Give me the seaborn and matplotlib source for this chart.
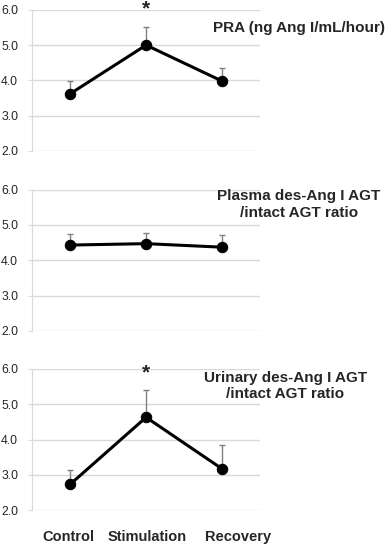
import numpy as np
import matplotlib
matplotlib.use("Agg")
import matplotlib.pyplot as plt
import matplotlib.transforms as mtransforms
import seaborn as sns

# plain white background, Arial-like font
sns.set_style("white")
plt.rcParams['font.family'] = ['Liberation Sans', 'DejaVu Sans']

# --- data (mean and upper SE) ---
phases = ["Control", "Stimulation", "Recovery"]

pra_mean = [3.62, 5.00, 3.98]
pra_se = [0.35, 0.50, 0.37]

plasma_mean = [4.43, 4.47, 4.37]
plasma_se = [0.30, 0.30, 0.34]

urine_mean = [2.73, 4.63, 3.17]
urine_se = [0.42, 0.77, 0.68]

panel_titles = ["PRA (ng Ang I/mL/hour)",
                "Plasma des-Ang I AGT\n/intact AGT ratio",
                "Urinary des-Ang I AGT\n/intact AGT ratio"]
star_marks = [["", "*", ""], ["", "", ""], ["", "*", ""]]
y_ticks = [2.0, 3.0, 4.0, 5.0, 6.0]

means = [pra_mean, plasma_mean, urine_mean]
errors = [pra_se, plasma_se, urine_se]

fig = plt.figure(figsize=(3.87, 5.45), dpi=100)
# axes boxes in figure fractions
boxes = [[0.083, 0.723, 0.589, 0.259],
         [0.083, 0.393, 0.589, 0.259],
         [0.083, 0.064, 0.589, 0.259]]
# where each title sits (axes fraction) and how it is aligned
title_pos = [(1.548, 0.868, 'right'), (1.171, 0.895, 'center'), (1.110, 0.88, 'center')]
star_y = [6.025, None, 5.885]

grid_col = '#d9d9d9'

for i in range(3):
    ax = fig.add_axes(boxes[i])
    ax.set_ylim(2, 6)

    # only the upper half of the error bar is shown
    ax.errorbar(phases, means[i], yerr=[np.zeros(3), errors[i]], fmt='none',
                ecolor='#808080', elinewidth=1, capsize=2.5, capthick=1, zorder=2)
    sns.lineplot(x=phases, y=means[i], ax=ax, color='black', linewidth=2.2,
                 marker='o', markersize=7.5, markeredgecolor='black', sort=False, zorder=3)
    ax.set_xlim(-0.5, 2.5)

    ax.set_yticks(y_ticks)
    ax.set_yticklabels([f"{v:.1f}" for v in y_ticks], fontsize=8.8)
    ax.yaxis.grid(True, color=grid_col, linewidth=1)
    ax.set_axisbelow(True)
    for side in ['top', 'right', 'bottom']:
        ax.spines[side].set_visible(False)
    ax.spines['left'].set_color(grid_col)
    ax.tick_params(axis='y', length=3, color=grid_col, pad=7, left=True)
    ax.set_xlabel('')
    ax.set_ylabel('')

    tx, ty, ha = title_pos[i]
    ax.text(tx, ty, panel_titles[i], transform=ax.transAxes, ha=ha, va='center',
            multialignment='center', fontsize=11, fontweight='bold')

    for j, mark in enumerate(star_marks[i]):
        if mark:
            ax.text(j, star_y[i], mark, ha='center', va='center', fontsize=15,
                    fontweight='bold', clip_on=False)

    if i < 2:
        ax.tick_params(axis='x', bottom=False, labelbottom=False)
    else:
        ax.tick_params(axis='x', bottom=False, length=0, pad=14, labelsize=10.5)
        shifts = [-2, 1, 16]
        for lab, dx in zip(ax.get_xticklabels(), shifts):
            lab.set_fontweight('bold')
            lab.set_transform(lab.get_transform() +
                              mtransforms.ScaledTranslation(dx / 100, 0, fig.dpi_scale_trans))

fig.savefig('out.png', dpi=100)
